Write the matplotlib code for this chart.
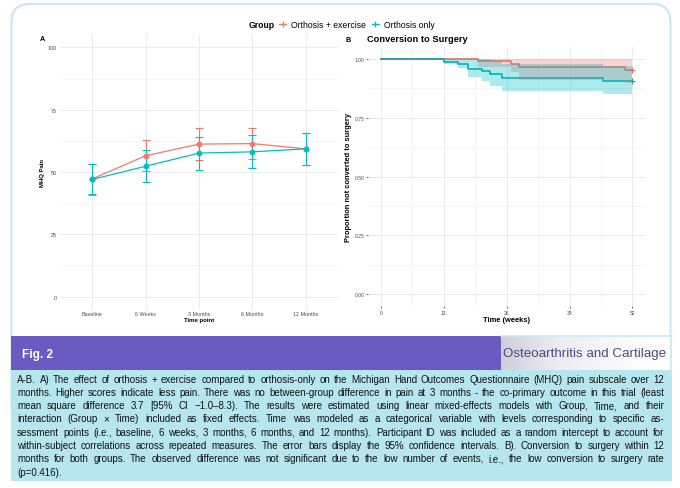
import matplotlib
matplotlib.use('Agg')
import matplotlib.pyplot as plt
from matplotlib.patches import FancyBboxPatch, Rectangle
from matplotlib.lines import Line2D
from matplotlib import font_manager
from matplotlib.colors import LinearSegmentedColormap
import numpy as np

# ---------------- data ----------------
timepoints = ['Baseline', '6 Weeks', '3 Months', '6 Months', '12 Months']
ex_mean = [47.2, 56.5, 61.2, 61.4, 59.3]
ex_lo = [40.8, 50.3, 54.7, 55.1, 52.9]
ex_hi = [53.4, 62.7, 67.5, 67.7, 65.6]
only_mean = [47.0, 52.3, 57.6, 58.1, 59.3]
only_lo = [41.1, 45.9, 51.0, 51.7, 53.0]
only_hi = [53.3, 58.8, 64.0, 64.7, 65.7]

km_ex_t = [0, 20, 27, 28.5, 50.5]
km_ex_s = [1.0, 0.990, 0.977, 0.965, 0.952]
km_ex_lo = [1.0, 0.968, 0.945, 0.912, 0.900]
km_ex_hi = [1.0, 1.0, 1.0, 1.0, 1.0]
km_only_t = [0, 13, 16, 18, 21, 22.5, 25, 46]
km_only_s = [1.0, 0.989, 0.977, 0.958, 0.947, 0.935, 0.920, 0.907]
km_only_lo = [1.0, 0.978, 0.960, 0.925, 0.905, 0.887, 0.865, 0.850]
km_only_hi = [1.0, 1.0, 1.0, 1.0, 1.0, 0.993, 0.978, 0.972]
km_end = 52

groups = ['Orthosis + exercise', 'Orthosis only']
colors = ['#F8766D', '#00BFC4']
km_line_colors = ['#E0716A', '#10A8AC']

caption_lines = [
    "A-B. A) The effect of orthosis + exercise compared to orthosis-only on the Michigan Hand Outcomes Questionnaire (MHQ) pain subscale over 12",
    "months. Higher scores indicate less pain. There was no between-group difference in pain at 3 months - the co-primary outcome in this trial (least",
    "mean square difference 3.7 [95% CI \u22121.0\u20138.3). The results were estimated using linear mixed-effects models with Group, Time, and their",
    "interaction (Group \u00d7 Time) included as fixed effects. Time was modeled as a categorical variable with levels corresponding to specific as-",
    "sessment points (i.e., baseline, 6 weeks, 3 months, 6 months, and 12 months). Participant ID was included as a random intercept to account for",
    "within-subject correlations across repeated measures. The error bars display the 95% confidence intervals. B). Conversion to surgery within 12",
    "months for both groups. The observed difference was not significant due to the low number of events, i.e., the low conversion to surgery rate",
    "(p=0.416).",
]

# ---------------- setup ----------------
names = {f.name for f in font_manager.fontManager.ttflist}
base_font = 'Liberation Sans' if 'Liberation Sans' in names else 'DejaVu Sans'
cap_font = 'Liberation Sans Narrow' if 'Liberation Sans Narrow' in names else base_font
plt.rcParams['font.family'] = [base_font, 'DejaVu Sans']

W, H = 680, 489
fig = plt.figure(figsize=(W / 100, H / 100), dpi=100)
fig.patch.set_facecolor('white')

bg = fig.add_axes([0, 0, 1, 1])
bg.axis('off')
bg.set_zorder(0)

# outer rounded box
box = FancyBboxPatch((11.5, 5), 659, 420, boxstyle='round,pad=0,rounding_size=18',
                     facecolor='white', edgecolor='#C9EAF3', lw=1.6, zorder=1)
bg.add_patch(box)
# purple band
bg.add_patch(Rectangle((10.5, 337), 490, 34, facecolor='#6A5BC2', edgecolor='none', zorder=3))
# logo area gradient
grad_cmap = LinearSegmentedColormap.from_list('g', ['#CFCFD8', '#EDEDF1', '#F8F8FA', '#FFFFFF'])
grad = np.linspace(0, 1, 200).reshape(1, -1)
bg.imshow(grad, extent=(500.5, 671.5, 371, 337), aspect='auto', cmap=grad_cmap, zorder=3)
bg.plot([500.5, 671.5], [337.2, 337.2], color='#C9EAF3', lw=1.2, zorder=4)
bg.plot([671.3, 671.3], [337, 371], color='#C9EAF3', lw=1.2, zorder=4)
# caption background
bg.add_patch(Rectangle((10.5, 371), 661, 111, facecolor='#B6E6EE', edgecolor='none', zorder=3))
bg.set_xlim(0, W)
bg.set_ylim(H, 0)

bg.text(22.5, 355, 'Fig. 2', color='white', fontsize=8.6, fontweight='bold',
        ha='left', va='center', zorder=5)
bg.text(585, 354.5, 'Osteoarthritis and Cartilage', color='#4A4A82', fontsize=9.6,
        ha='center', va='center', zorder=5)

# ---------------- panel A ----------------
axA = fig.add_axes([60 / W, 1 - 310 / H, 278 / W, 274 / H])
axA.set_zorder(2)
axA.patch.set_alpha(0)
xs = np.arange(len(timepoints))
for mean, lo, hi, c in [(ex_mean, ex_lo, ex_hi, colors[0]), (only_mean, only_lo, only_hi, colors[1])]:
    m = np.array(mean)
    err = [m - np.array(lo), np.array(hi) - m]
    axA.errorbar(xs, m, yerr=err, color=c, lw=0.9, marker='o', ms=3.2, capsize=2.6,
                 capthick=0.8, elinewidth=0.8, zorder=3)
axA.set_xlim(-0.6, len(timepoints) - 0.4)
axA.set_ylim(-5, 105)
axA.set_xticks(xs)
axA.set_xticklabels(timepoints)
axA.set_yticks([0, 25, 50, 75, 100])
axA.set_yticks([12.5, 37.5, 62.5, 87.5], minor=True)
axA.grid(True, which='major', color='#EBEBEB', lw=0.7)
axA.grid(True, which='minor', axis='y', color='#F0F0F0', lw=0.45)
axA.set_axisbelow(True)
for s in axA.spines.values():
    s.set_visible(False)
axA.tick_params(which='both', length=0, labelsize=3.9, labelcolor='#4D4D4D')
axA.tick_params(axis='y', pad=2.2)
axA.tick_params(axis='x', pad=1.2)
axA.set_ylabel('MHQ Pain', fontsize=4.3, fontweight='bold', va='center')
axA.yaxis.set_label_coords((42 - 60) / 278, 0.5)
axA.set_xlabel('Time point', fontsize=4.3, fontweight='bold', va='center')
axA.xaxis.set_label_coords(0.5, -(320.3 - 310) / 274)

# ---------------- panel B ----------------
axB = fig.add_axes([368.3 / W, 1 - 306.7 / H, 276.7 / W, 258.4 / H])
axB.set_zorder(2)
axB.patch.set_alpha(0)


def steps(t, v):
    return list(t) + [km_end], list(v) + [v[-1]]


km_sets = [(km_ex_t, km_ex_s, km_ex_lo, km_ex_hi, colors[0], km_line_colors[0]),
           (km_only_t, km_only_s, km_only_lo, km_only_hi, colors[1], km_line_colors[1])]
for t, s, lo, hi, c, lc in km_sets:
    tt, ss = steps(t, s)
    axB.step(tt, ss, where='post', color=lc, lw=1.2, zorder=2)
    axB.plot([km_end], [s[-1]], marker='+', color=lc, ms=4.5, mew=0.9, zorder=2)
for t, s, lo, hi, c, lc in km_sets:
    tt, ll = steps(t, lo)
    _, hh = steps(t, hi)
    axB.fill_between(tt, ll, hh, step='post', color=c, alpha=0.32, lw=0, zorder=3)

axB.set_xlim(-2.6, 54.6)
axB.set_ylim(-0.05, 1.05)
axB.set_xticks([0, 13, 26, 39, 52])
axB.set_xticks([6.5, 19.5, 32.5, 45.5], minor=True)
axB.set_yticks([0, 0.25, 0.5, 0.75, 1.0])
axB.set_yticklabels(['0.00', '0.25', '0.50', '0.75', '1.00'])
axB.set_yticks([0.125, 0.375, 0.625, 0.875], minor=True)
axB.grid(True, which='major', color='#EBEBEB', lw=0.7)
axB.grid(True, which='minor', color='#F0F0F0', lw=0.45)
axB.set_axisbelow(True)
for s in axB.spines.values():
    s.set_visible(False)
axB.tick_params(which='major', length=1.6, width=0.5, color='#333333',
                labelsize=3.6, labelcolor='#4D4D4D', pad=1.2)
axB.tick_params(which='minor', length=0)
axB.set_ylabel('Proportion not converted to surgery', fontsize=5.4, fontweight='bold', va='center')
axB.yaxis.set_label_coords((348 - 368.3) / 276.7, 0.5)
axB.set_xlabel('Time (weeks)', fontsize=5.4, fontweight='bold', va='center')
axB.xaxis.set_label_coords(0.5, -(320 - 306.7) / 258.4)

# panel labels & title
fig.text(42 / W, 1 - 39.5 / H, 'A', fontsize=5.2, fontweight='bold', ha='center', va='center')
fig.text(347.7 / W, 1 - 40 / H, 'B', fontsize=5.2, fontweight='bold', ha='center', va='center')
fig.text(367 / W, 1 - 40 / H, 'Conversion to Surgery', fontsize=6.7, fontweight='bold',
         ha='left', va='center')

# legend
fig.text(249 / W, 1 - 25.7 / H, 'Group', fontsize=6.2, fontweight='bold', ha='left', va='center')
handles = [Line2D([0], [0], color=c, lw=0.9, marker='+', ms=4.5, mew=0.9) for c in colors]
fig.legend(handles, groups, loc='center left', bbox_to_anchor=(279 / W, 1 - 25.7 / H), ncol=2,
           frameon=False, fontsize=6.2, handlelength=0.85, handletextpad=0.55,
           columnspacing=0.65, borderpad=0, borderaxespad=0)

# ---------------- caption (justified) ----------------
x_left, x_right = 17.0, 664.5
avail = x_right - x_left
fs0 = 7.0
base_y0 = 382.6
dy = 13.3
line_texts = []
for i, line in enumerate(caption_lines):
    words = line.split(' ')
    ts = [bg.text(x_left, base_y0 + i * dy, w, fontsize=fs0, family=[cap_font, 'DejaVu Sans'],
                  ha='left', va='baseline', color='#111111', zorder=6) for w in words]
    line_texts.append(ts)
probe1 = bg.text(0, 0, 'a a', fontsize=fs0, family=[cap_font, 'DejaVu Sans'])
probe2 = bg.text(0, 0, 'aa', fontsize=fs0, family=[cap_font, 'DejaVu Sans'])
fig.canvas.draw()
r = fig.canvas.get_renderer()
space = probe1.get_window_extent(r).width - probe2.get_window_extent(r).width
probe1.remove()
probe2.remove()
widths = [[t.get_window_extent(r).width for t in ts] for ts in line_texts]
nat = [sum(ws) + space * (len(ws) - 1) for ws in widths]
scale = min(1.0, avail / max(nat))
fs = fs0 * scale
for i, (ts, ws) in enumerate(zip(line_texts, widths)):
    ws = [w * scale for w in ws]
    sp = space * scale
    if i < len(line_texts) - 1 and len(ts) > 1:
        gap = (avail - sum(ws)) / (len(ts) - 1)
    else:
        gap = sp
    x = x_left
    for t, w in zip(ts, ws):
        t.set_fontsize(fs)
        t.set_x(x)
        x += w + gap

fig.savefig('out.png', dpi=100, facecolor='white')
